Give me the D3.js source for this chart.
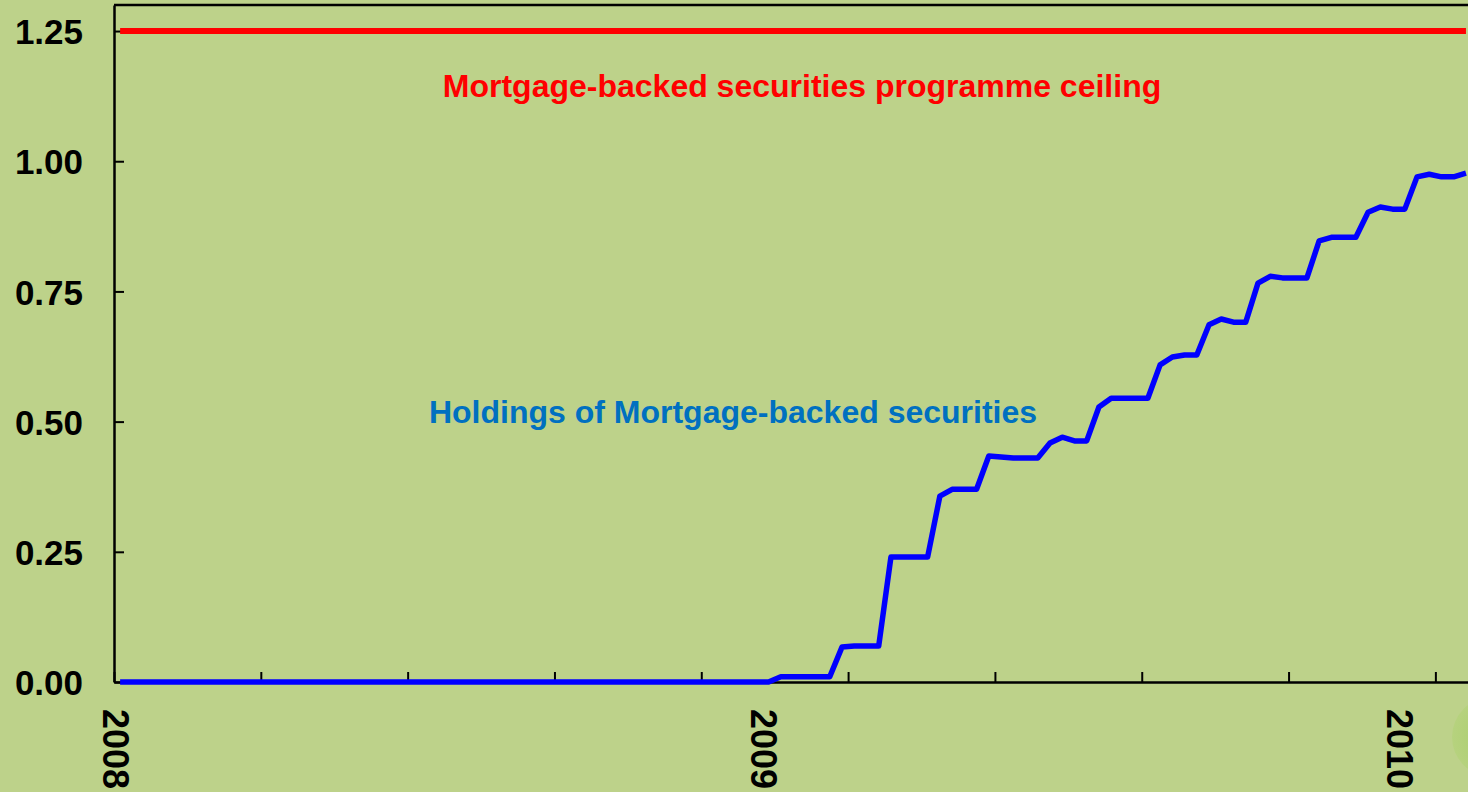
<!DOCTYPE html>
<html>
<head>
<meta charset="utf-8">
<script src="https://cdn.jsdelivr.net/npm/d3@7"></script>
<style>
  html, body { margin:0; padding:0; background:#BDD28A; overflow:hidden; }
  #chart-area svg { display:block; }
  .axis path, .axis line { stroke:#000; }
  .axis text { font-family:"Liberation Sans", Arial, sans-serif; font-weight:bold; fill:#000; }
</style>
</head>
<body>
<div id="chart-area"></div>
<script>

// weekly observations (Wednesdays), first week = 2 Jan 2008
var startWeek = new Date(2008, 0, 2);
var nWeeks = 111;

// Fed holdings of mortgage-backed securities, USD trillion
var holdings = [
  0,0,0,0,0,0,0,0,0,0,0,0,0,0,0,0,0,0,0,0,0,0,0,0,0,0,0,
  0,0,0,0,0,0,0,0,0,0,0,0,0,0,0,0,0,0,0,0,0,0,0,0,0,0,
  0, 0.01, 0.01, 0.01, 0.01, 0.01,
  0.067, 0.069, 0.069, 0.069,
  0.24, 0.24, 0.24, 0.24,
  0.357, 0.37, 0.37, 0.37,
  0.434, 0.432, 0.43, 0.43, 0.43,
  0.459, 0.47, 0.463, 0.463,
  0.528, 0.545, 0.545, 0.545, 0.545,
  0.609, 0.624, 0.628, 0.628,
  0.686, 0.697, 0.691, 0.691,
  0.766, 0.779, 0.776, 0.776, 0.776,
  0.847, 0.854, 0.854, 0.854,
  0.902, 0.912, 0.908, 0.908,
  0.97, 0.975, 0.97, 0.97, 0.977
];
var ceiling = 1.25;

var yTicks = [0, 0.25, 0.5, 0.75, 1.0, 1.25];
var yearLabels = ["2008", "2009", "2010"];

var holdingsLabel = "Holdings of Mortgage-backed securities";
var ceilingLabel = "Mortgage-backed securities programme ceiling";

var total_width = 1468;
var total_height = 792;

var svg = d3.select('#chart-area').append('svg')
            .attr("width", total_width)
            .attr("height", total_height);

var margin = {top:5, left:114};
var weekWidth = 12.235;
var plotWidth = weekWidth * 114;
var plotHeight = 677;

var defs = svg.append("defs");
var grad = defs.append("radialGradient").attr("id", "blob");
grad.append("stop").attr("offset", "0%").attr("stop-color", "#A9CE6C");
grad.append("stop").attr("offset", "100%").attr("stop-color", "#B6D27E");

svg.append("circle")
   .attr("cx", 1492)
   .attr("cy", 737)
   .attr("r", 40)
   .attr("fill", "url(#blob)");

var chart = svg.append('g')
               .attr("transform", "translate(" + margin.left + "," + margin.top + ")");

var weeks = d3.timeWednesday.range(startWeek, d3.timeWeek.offset(startWeek, nWeeks));
var data = weeks.map(function(d, i){
    return {date:d, index:i, holdings:holdings[i], ceiling:ceiling};
});

var x = d3.scaleLinear().domain([0, 114]).range([0, plotWidth]);
var y = d3.scaleLinear().domain([0, 1.3]).range([plotHeight, 0]);

// frame: top edge
chart.append("line")
     .attr("x1", 0).attr("x2", plotWidth)
     .attr("y1", y(1.3)).attr("y2", y(1.3))
     .attr("stroke", "#000").attr("stroke-width", 2.5);

// y axis, inward ticks
var yAxis = d3.axisLeft(y).tickValues(yTicks).tickFormat(d3.format(".2f"))
              .tickSizeInner(-10).tickSizeOuter(0).tickPadding(31);
var gy = chart.append('g').attr("class", "axis").call(yAxis);
gy.select(".domain").attr("stroke-width", 2.5);
gy.selectAll(".tick line").attr("stroke-width", 2);
gy.selectAll("text").attr("font-size", "35px").attr("dy", "0.36em");

// x axis: ticks every 12 weeks, labels at the first week of each year
var xAxis = d3.axisBottom(x).tickValues(d3.range(0, 115, 12))
              .tickSizeInner(-10).tickSizeOuter(0).tickFormat("");
var gx = chart.append('g').attr("class", "axis")
              .attr("transform", "translate(0," + plotHeight + ")")
              .call(xAxis);
gx.select(".domain").attr("stroke-width", 2.5);
gx.selectAll(".tick line").attr("stroke-width", 2);

var yearStarts = data.filter(function(d, i){
    return i == 0 || d.date.getFullYear() != data[i-1].date.getFullYear();
});

chart.selectAll(".year-label").data(yearStarts).enter().append("text")
     .attr("class", "year-label")
     .attr("transform", function(d){
         return "translate(" + (x(d.index) + 1.5) + "," + (plotHeight + 27) + ") rotate(90)";
     })
     .attr("dy", "0.36em")
     .attr("font-family", "Liberation Sans, Arial, sans-serif")
     .attr("font-weight", "bold")
     .attr("font-size", "36px")
     .attr("fill", "#000")
     .text(function(d, i){ return yearLabels[i]; });

var lineHoldings = d3.line()
    .x(function(d){ return x(d.index + 0.5); })
    .y(function(d){ return y(d.holdings); });

var lineCeiling = d3.line()
    .x(function(d){ return x(d.index + 0.5); })
    .y(function(d){ return y(d.ceiling); });

chart.append("path")
     .datum(data)
     .attr("d", lineCeiling)
     .attr("fill", "none")
     .attr("stroke", "#FF0000")
     .attr("stroke-width", 6);

chart.append("path")
     .datum(data)
     .attr("d", lineHoldings)
     .attr("fill", "none")
     .attr("stroke", "#0000FF")
     .attr("stroke-width", 5.5)
     .attr("stroke-linejoin", "round");

chart.append("text")
     .attr("x", 802 - margin.left)
     .attr("y", 85 - margin.top)
     .attr("dy", "0.36em")
     .attr("text-anchor", "middle")
     .attr("font-family", "Liberation Sans, Arial, sans-serif")
     .attr("font-weight", "bold")
     .attr("font-size", "32px")
     .attr("fill", "#FF0000")
     .text(ceilingLabel);

chart.append("text")
     .attr("x", 733 - margin.left)
     .attr("y", 411 - margin.top)
     .attr("dy", "0.36em")
     .attr("text-anchor", "middle")
     .attr("font-family", "Liberation Sans, Arial, sans-serif")
     .attr("font-weight", "bold")
     .attr("font-size", "32px")
     .attr("fill", "#0070C0")
     .text(holdingsLabel);

</script>
</body>
</html>
